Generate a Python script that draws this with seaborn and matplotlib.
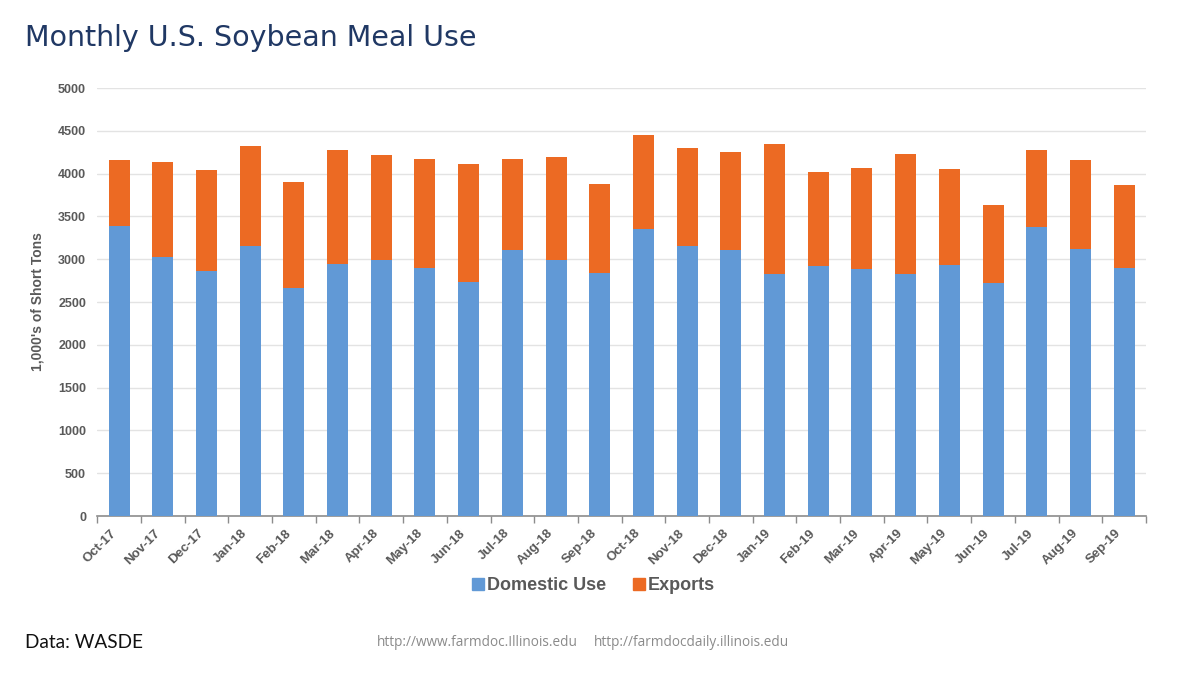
import numpy as np
import pandas as pd
import matplotlib
matplotlib.use("Agg")
import matplotlib.pyplot as plt
import matplotlib.transforms as mtransforms
from matplotlib.lines import Line2D
import seaborn as sns

months = ["Oct-17", "Nov-17", "Dec-17", "Jan-18", "Feb-18", "Mar-18", "Apr-18", "May-18",
          "Jun-18", "Jul-18", "Aug-18", "Sep-18", "Oct-18", "Nov-18", "Dec-18", "Jan-19",
          "Feb-19", "Mar-19", "Apr-19", "May-19", "Jun-19", "Jul-19", "Aug-19", "Sep-19"]
domestic = [3385, 3030, 2860, 3150, 2665, 2945, 2995, 2895, 2730, 3105, 2990, 2840,
            3350, 3150, 3110, 2825, 2925, 2885, 2825, 2935, 2725, 3380, 3125, 2900]
exports = [775, 1110, 1180, 1170, 1235, 1330, 1220, 1275, 1380, 1065, 1200, 1035,
           1105, 1150, 1145, 1520, 1095, 1175, 1400, 1120, 905, 900, 1030, 970]
yticks = [0, 500, 1000, 1500, 2000, 2500, 3000, 3500, 4000, 4500, 5000]

BLUE = "#6199D6"
ORANGE = "#EC6A23"
GRAY = "#595959"

df = pd.DataFrame({"month": months, "Domestic Use": domestic, "Exports": exports})
df["total"] = df["Domestic Use"] + df["Exports"]

sns.set_theme(style="white")
plt.rcParams["font.family"] = ["Liberation Sans", "DejaVu Sans"]

fig = plt.figure(figsize=(12, 6.74), dpi=100)
ax = fig.add_axes([0.081, 0.2344, 0.874, 0.635])

sns.barplot(data=df, x="month", y="total", color=ORANGE, width=0.48,
            saturation=1, ax=ax, zorder=3, linewidth=0, edgecolor="none")
sns.barplot(data=df, x="month", y="Domestic Use", color=BLUE, width=0.48,
            saturation=1, ax=ax, zorder=3, linewidth=0, edgecolor="none")

ax.set_ylim(0, 5000)
ax.set_xlim(-0.5, len(months) - 0.5)
ax.set_yticks(yticks)
ax.set_yticklabels([str(v) for v in yticks], fontsize=9, fontweight="bold", color=GRAY)
ax.yaxis.grid(True, color="#E3E3E3", linewidth=1, zorder=0)
ax.set_axisbelow(True)
ax.tick_params(axis="y", length=0, pad=8)

ax.set_xticks(range(len(months)))
ax.set_xticklabels(months, rotation=45, ha="right", rotation_mode="anchor",
                   fontsize=9.5, fontweight="bold", color=GRAY)
ax.tick_params(axis="x", which="major", length=0, pad=8)
ax.set_xticks(np.arange(-0.5, len(months), 1.0), minor=True)
ax.tick_params(axis="x", which="minor", bottom=True, length=5, color="#8C8C8C",
               width=1, direction="out")
offset = mtransforms.ScaledTranslation(-9 / 100, 0, fig.dpi_scale_trans)
for lbl in ax.get_xticklabels():
    lbl.set_transform(lbl.get_transform() + offset)

for s in ["top", "right", "left"]:
    ax.spines[s].set_visible(False)
ax.spines["bottom"].set_color("#8C8C8C")
ax.spines["bottom"].set_linewidth(1.2)

ax.set_xlabel("")
ax.set_ylabel("1,000's of Short Tons", fontsize=10, fontweight="bold", color=GRAY, labelpad=10)

handles = [Line2D([0], [0], marker="s", linestyle="", markersize=9, color=BLUE),
           Line2D([0], [0], marker="s", linestyle="", markersize=9, color=ORANGE)]
leg = fig.legend(handles, ["Domestic Use", "Exports"], loc="center",
                 bbox_to_anchor=(0.494, 1 - 586 / 674), ncol=2, frameon=False,
                 prop={"size": 13, "weight": "bold"}, handletextpad=0.1,
                 columnspacing=1.4, handlelength=0.8)
for t in leg.get_texts():
    t.set_color(GRAY)

fig.text(25 / 1200, 1 - 38 / 674, "Monthly U.S. Soybean Meal Use", fontsize=20.5,
         color="#203864", va="center", ha="left", family=["DejaVu Sans"])
fig.text(25 / 1200, 1 - 643 / 674, "Data: WASDE", fontsize=13.7, color="#111111",
         va="center", ha="left", family=["Lato", "DejaVu Sans"])
fig.text(377 / 1200, 1 - 643 / 674, "http://www.farmdoc.Illinois.edu", fontsize=9.8,
         color="#8A8A8A", va="center", ha="left", family=["Open Sans", "DejaVu Sans"])
fig.text(594 / 1200, 1 - 643 / 674, "http://farmdocdaily.illinois.edu", fontsize=9.8,
         color="#8A8A8A", va="center", ha="left", family=["Open Sans", "DejaVu Sans"])

fig.savefig("out.png", dpi=100, facecolor="white")
